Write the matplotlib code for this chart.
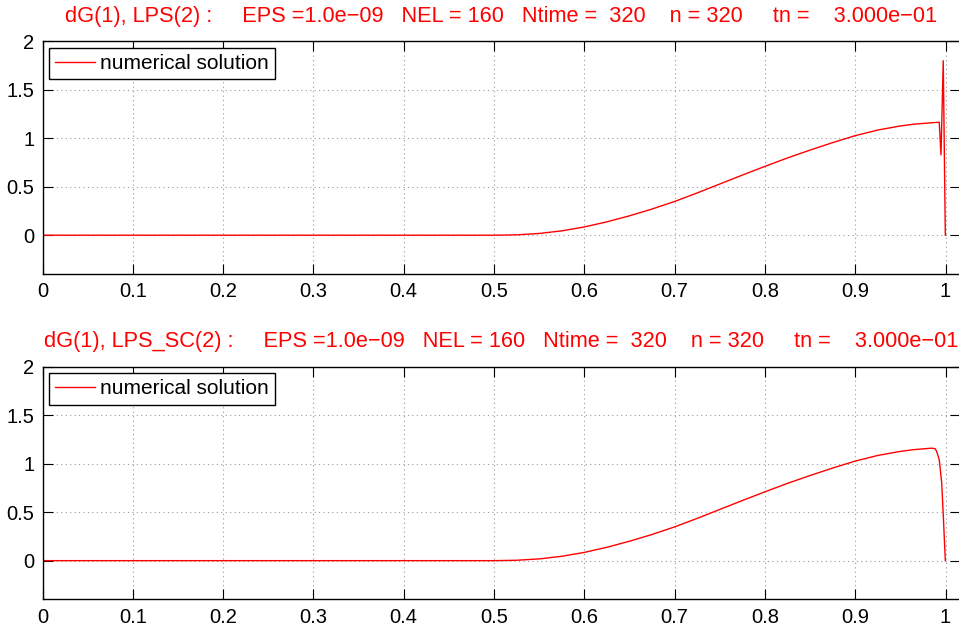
import matplotlib
matplotlib.use("Agg")
import matplotlib.pyplot as plt

plt.rcParams['font.family'] = ['Liberation Sans', 'DejaVu Sans']

# values
x_smooth = [0.0, 0.5, 0.525, 0.55, 0.575, 0.6, 0.625, 0.65, 0.675, 0.7,
            0.725, 0.75, 0.775, 0.8, 0.825, 0.85, 0.875, 0.9, 0.925,
            0.95, 0.965, 0.975, 0.9845]
y_smooth = [0.0, 0.0, 0.004, 0.018, 0.045, 0.085, 0.138, 0.2, 0.27, 0.348,
            0.436, 0.528, 0.62, 0.71, 0.797, 0.878, 0.955, 1.027, 1.085,
            1.127, 1.145, 1.153, 1.16]

# end of the LPS run (oscillation at the outflow)
x_lps_end = [0.9931, 0.995, 0.9975, 0.9998]
y_lps_end = [1.165, 0.828, 1.80, 0.0]

# end of the LPS_SC run (boundary layer)
x_sc_end = [0.9885, 0.9902, 0.9931, 0.9958, 0.9976, 0.9998]
y_sc_end = [1.155, 1.127, 1.041, 0.80, 0.455, 0.0]

titles = [
    "dG(1), LPS(2) :     EPS =1.0e\u221209   NEL = 160   Ntime =  320    n = 320     tn =    3.000e\u221201",
    "dG(1), LPS_SC(2) :     EPS =1.0e\u221209   NEL = 160   Ntime =  320    n = 320     tn =    3.000e\u221201",
]
xticks = [0, 0.1, 0.2, 0.3, 0.4, 0.5, 0.6, 0.7, 0.8, 0.9, 1]
xtick_labels = ['0', '0.1', '0.2', '0.3', '0.4', '0.5', '0.6', '0.7', '0.8', '0.9', '1']
yticks = [0, 0.5, 1, 1.5, 2]
ytick_labels = ['0', '0.5', '1', '1.5', '2']

fig = plt.figure(figsize=(9.59, 6.28), dpi=100)
left = 42.5 / 959
width = (960 - 42.5) / 959
xmax = (960 - 42.5) / 903
ax_top = fig.add_axes([left, 0.5637, width, 0.3705])
ax_bot = fig.add_axes([left, 0.0455, width, 0.3705])

series = [(x_smooth + x_lps_end, y_smooth + y_lps_end),
          (x_smooth + x_sc_end, y_smooth + y_sc_end)]

for ax, (xs, ys), title in zip([ax_top, ax_bot], series, titles):
    ax.plot(xs, ys, color='red', lw=1.0, label='numerical solution')
    ax.set_xlim(0, xmax)
    ax.set_ylim(-0.4, 2)
    ax.set_xticks(xticks)
    ax.set_xticklabels(xtick_labels)
    ax.set_yticks(yticks)
    ax.set_yticklabels(ytick_labels)
    ax.grid(True, linestyle=(0, (1, 3)), color='0.6', lw=0.8)
    ax.tick_params(direction='in', length=7, width=0.8, top=True, right=True,
                   labelsize=14.5, pad=6)
    for s in ax.spines.values():
        s.set_linewidth(1.0)
    ax.set_title(title, color='red', fontsize=15.7, pad=14)
    leg = ax.legend(loc='upper left', fancybox=False, edgecolor='black',
                    borderaxespad=0.3, handlelength=1.9, handletextpad=0.25,
                    borderpad=0.3, fontsize=15, framealpha=1)
    leg.get_frame().set_linewidth(1.0)

fig.savefig('out.png', dpi=100)
